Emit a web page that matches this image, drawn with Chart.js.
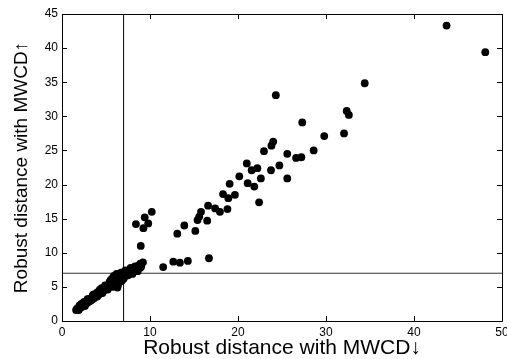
<!DOCTYPE html>
<html>
<head>
<meta charset="utf-8">
<script src="https://cdn.jsdelivr.net/npm/chart.js@4/dist/chart.umd.min.js"></script>
<style>
html,body{margin:0;padding:0;background:#fff;}
#wrap{width:507px;height:359px;}
</style>
</head>
<body>
<div id="wrap"><canvas id="c" width="507" height="359"></canvas></div>
<script>
// Robust distance with MWCD (down) -> x ; with MWCD (up) -> y
const distDown = [
  // dense cluster
  1.6,1.7,1.8,1.9,2.0,2.0,2.1,2.2,2.3,2.4,2.5,2.5,2.6,2.7,2.8,2.9,3.0,3.0,3.1,3.2,3.3,3.4,3.5,3.5,
  3.6,3.7,3.8,3.9,4.0,4.0,4.1,4.2,4.3,4.4,4.5,4.5,4.6,4.7,4.8,4.9,5.0,5.0,5.1,5.2,5.3,5.4,5.5,5.5,
  5.6,5.7,5.8,5.9,6.0,6.1,6.2,6.3,6.3,6.4,6.5,6.6,6.7,6.8,6.9,7.0,7.1,7.2,7.3,7.4,7.5,7.6,7.7,7.8,
  7.9,8.0,8.1,8.2,8.3,8.4,8.5,8.6,8.7,8.8,8.9,9.0,9.2,
  1.9,2.2,2.6,2.9,3.3,3.6,4.0,4.3,4.6,4.9,5.2,5.4,5.6,5.7,5.9,6.0,6.2,6.4,6.5,6.7,6.8,7.0,7.2,7.5,
  7.8,8.0,8.3,8.6,8.9,9.0,
  // outliers
  43.7,48.1,34.4,32.35,32.6,27.3,29.8,32.05,28.6,27.2,24.3,24.0,23.8,22.95,25.6,26.6,24.7,23.75,
  21.0,21.55,22.2,22.6,25.6,20.15,21.1,21.85,19.05,18.3,19.65,18.9,22.4,16.6,15.8,17.4,17.95,18.8,
  15.6,15.4,16.5,13.9,15.15,13.1,10.2,9.4,8.4,9.25,9.8,8.95,16.7,12.65,13.4,14.3,11.5
];
const distUp = [
  1.6,1.8,1.7,2.0,1.9,2.3,2.2,2.0,2.3,2.2,2.5,2.8,2.4,2.7,2.6,2.9,2.8,3.2,3.1,3.0,3.3,3.2,3.5,3.8,
  3.3,3.7,3.5,3.9,3.8,4.2,4.1,3.9,4.3,4.1,4.5,4.8,4.3,4.7,4.5,4.9,4.7,5.1,5.1,4.9,5.3,5.1,5.6,5.9,
  5.3,5.9,6.4,5.5,6.2,5.8,6.6,4.9,6.0,5.4,6.5,6.1,6.8,6.3,6.6,7.0,6.5,6.8,7.2,6.9,7.1,7.4,7.0,7.3,
  7.6,7.2,7.5,7.8,7.4,7.7,8.0,7.6,7.9,8.2,7.8,8.3,8.6,
  1.6,2.5,2.2,3.2,3.0,3.9,3.6,4.6,4.1,5.2,4.6,5.7,6.1,5.0,6.6,5.3,6.9,6.7,5.7,7.1,5.9,6.2,7.4,6.7,
  7.8,6.9,8.0,7.3,8.4,8.0,
  43.3,39.4,34.85,30.8,30.2,29.1,27.1,27.5,25.0,24.0,33.1,26.3,25.7,24.9,24.5,23.9,22.8,22.1,
  23.1,22.1,22.4,20.9,20.9,21.2,20.2,19.7,20.1,18.6,18.5,18.0,17.4,16.9,16.0,16.5,16.0,16.4,
  15.3,14.8,14.7,14.0,13.2,12.8,16.0,15.2,14.2,13.6,14.3,11.0,9.2,8.7,8.55,8.8,7.9
];
const cutoff = 7.0;
const xTickStep = 10, xMax = 50;
const yTickStep = 5, yMax = 45;
const xTitle = 'Robust distance with MWCD\u2193';
const yTitle = 'Robust distance with MWCD\u2191';

const points = distDown.map((v, i) => ({x: v, y: distUp[i]}));

const FONT = '"Liberation Sans", Arial, Helvetica, sans-serif';

const framePlugin = {
  id: 'frame',
  afterDatasetsDraw(chart) {
    const {ctx, chartArea: a, scales: {x, y}} = chart;
    ctx.save();
    ctx.strokeStyle = '#000';
    ctx.lineWidth = 1;
    ctx.beginPath();
    ctx.rect(Math.round(a.left) + 0.5, Math.round(a.top) + 0.5,
             Math.round(a.right - a.left), Math.round(a.bottom - a.top));
    ctx.stroke();
    const L = 5;
    ctx.beginPath();
    x.ticks.forEach(t => {
      const px = Math.round(x.getPixelForValue(t.value)) + 0.5;
      ctx.moveTo(px, a.bottom); ctx.lineTo(px, a.bottom - L);
      ctx.moveTo(px, a.top); ctx.lineTo(px, a.top + L);
    });
    y.ticks.forEach(t => {
      const py = Math.round(y.getPixelForValue(t.value)) + 0.5;
      ctx.moveTo(a.left, py); ctx.lineTo(a.left + L, py);
      ctx.moveTo(a.right, py); ctx.lineTo(a.right - L, py);
    });
    ctx.stroke();
    ctx.restore();
  }
};

new Chart(document.getElementById('c'), {
  type: 'scatter',
  data: {
    datasets: [
      {
        data: points,
        backgroundColor: '#000',
        borderWidth: 0,
        pointRadius: 3.9,
        pointHoverRadius: 3.9,
        order: 1
      },
      {
        data: [{x: cutoff, y: 0}, {x: cutoff, y: yMax}],
        showLine: true,
        borderColor: '#000',
        borderWidth: 1,
        pointRadius: 0,
        order: 2
      },
      {
        data: [{x: 0, y: cutoff}, {x: xMax, y: cutoff}],
        showLine: true,
        borderColor: '#333',
        borderWidth: 1,
        pointRadius: 0,
        order: 3
      }
    ]
  },
  options: {
    responsive: false,
    animation: false,
    events: [],
    layout: {padding: {top: 14, right: 5, left: 0, bottom: 0}},
    plugins: {legend: {display: false}, tooltip: {enabled: false}},
    scales: {
      x: {
        type: 'linear', min: 0, max: xMax,
        grid: {display: false, drawTicks: false},
        border: {display: false},
        ticks: {stepSize: xTickStep, color: '#000', font: {family: FONT, size: 12}, padding: 4, maxRotation: 0},
        title: {display: true, text: xTitle, color: '#000', font: {family: FONT, size: 21, lineHeight: 1}, padding: {top: 0, bottom: 0}},
        afterFit(s) { s.height = 38; s.paddingLeft = 0; s.paddingRight = 0; }
      },
      y: {
        type: 'linear', min: 0, max: yMax,
        grid: {display: false, drawTicks: false},
        border: {display: false},
        ticks: {stepSize: yTickStep, color: '#000', font: {family: FONT, size: 12}, padding: 4},
        title: {display: true, text: yTitle, color: '#000', font: {family: FONT, size: 19, lineHeight: 1}, padding: {top: 12, bottom: 0}},
        afterFit(s) { s.width = 62; s.paddingTop = 0; s.paddingBottom = 0; }
      }
    }
  },
  plugins: [framePlugin]
});
</script>
</body>
</html>
